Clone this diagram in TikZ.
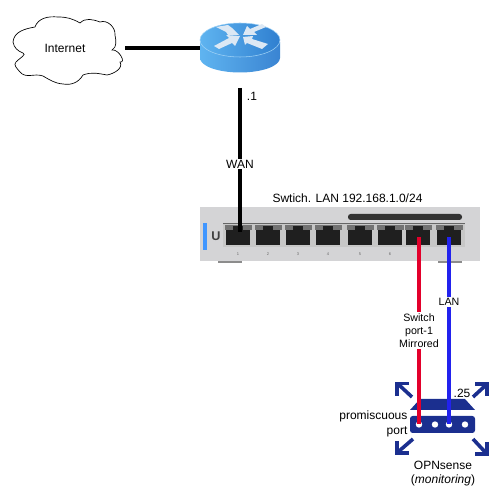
\documentclass[tikz,border=0pt]{standalone}
\usepackage{fontspec}
\setmainfont{Liberation Sans}
\usetikzlibrary{calc}
\definecolor{dkblue}{HTML}{1B2F8F}
\definecolor{plate}{HTML}{D4D4D6}
\definecolor{rtop}{HTML}{4A9CE6}
\definecolor{rtopd}{HTML}{2F7FD0}
\definecolor{rl}{HTML}{5FB4F0}
\definecolor{rd}{HTML}{3A84D2}
\definecolor{rarrow}{HTML}{DCE8F4}
\definecolor{wred}{HTML}{E3002B}
\definecolor{wblue}{HTML}{2222EE}
\tikzset{
 lbl/.style={font=\fontsize{9}{11.2}\selectfont,inner sep=1pt,align=center},
 lblsm/.style={font=\fontsize{8}{9.75}\selectfont,inner sep=1pt,align=center,fill=white},
 lblbg/.style={lbl,fill=white},
 wire/.style={line width=3.1pt},
 arr/.style={dkblue,line width=2.7pt,miter limit=10},
 pnum/.style={font=\fontsize{3}{3}\selectfont,text=black!60,inner sep=0pt},
 cloudline/.style={draw=black,line width=.5pt,fill=white}
}
\begin{document}
\begin{tikzpicture}[x=0.75pt,y=-0.75pt]
\useasboundingbox (0,0) rectangle (503,498);
% switch
\fill[plate] (200,207) rectangle (480,261);
\fill[black!45] (218,261) rectangle (242,263);
\fill[black!45] (438,261) rectangle (462,263);
\fill[black!80,rounded corners=2pt] (348,214) rectangle (462,220);
\fill[black!22] (223,223) rectangle (465,247);
\draw[black!60,line width=.5pt] (223,223) -- (465,223);
\fill[blue!55!cyan!75] (203,223) rectangle (207,250);
\node[font=\bfseries\fontsize{9.5}{9.5}\selectfont,text=black!75,inner sep=0pt] (logo) at (216,236.5) {U};
\foreach \x/\n in {238/1,268/2,298/3,328/4,360/5,390/6,418/,449/}{
  \fill[black!55] (\x-13.5,225.5) rectangle (\x+13.5,230);
  \fill[black!88] (\x-12,230) rectangle (\x+12,245);
  \fill[black!88] (\x-5,226) rectangle (\x+5,231);
  \node[pnum] at (\x,254) {\n};
}
% router
\shade[left color=rl,right color=rd] (200,42) -- (200,58) arc[start angle=180,end angle=0,x radius=40,y radius=14.5] -- (280,42) -- cycle;
\shade[left color=rl,right color=rtopd,draw=rl!60!white,line width=.4pt] (240,40) ellipse[x radius=40,y radius=17];
\fill[rarrow] (214,46) -- (229,38) -- (226,35) -- (240,36) -- (235,46) -- (232,43) -- (219,49) -- cycle;
\fill[rarrow] (216,27) -- (228,25) -- (232,28) -- (239,35) -- (228,35) -- (226,32) -- cycle;
\fill[rarrow] (243,35) -- (247,26) -- (250,29) -- (262,24) -- (266,27) -- (254,32) -- (257,35) -- cycle;
\fill[rarrow] (243,37) -- (253,36) -- (252,39) -- (268,44) -- (262,49) -- (247,43) -- (245,45) -- cycle;
\node[inner sep=0pt,minimum width=60pt,minimum height=37pt] (router) at (240,47.5) {};
% cloud
\node[inner sep=0pt,minimum width=82pt,minimum height=51pt] (cloud) at (67,50) {};
\draw[cloudline] (13,42) to[out=85,in=190] (35,27) to[out=70,in=175] (58,17) to[out=0,in=150] (80,23)
  to[out=45,in=160] (100,22) to[out=20,in=85] (115,35) to[out=-80,in=30] (112,50) to[out=10,in=-10,looseness=1.2] (120,62)
  to[out=-60,in=10] (107,75) to[out=170,in=20] (83,75)
  to[out=-120,in=-10] (63,84) to[out=175,in=-30] (43,76) to[out=160,in=-50] (20,72)
  to[out=130,in=-140] (16,62) to[out=50,in=-20] (23,53) to[out=160,in=-80] (13,42) -- cycle;
\node[lbl] (inet) at (65,48) {Internet};
% wires
\coordinate (cloudR) at (125,48);
\draw[wire] (cloudR) -- (router.west |- cloudR);
\coordinate (rb) at (240,88);
\coordinate (p1) at (240,232);
\draw[wire] (rb) -- (p1);
\node[lblbg] (wan) at (240,164) {WAN};
\node[lbl] (dot1) at (252,96.5) {.1};
\node[lbl] (sw) at (347.5,198) {Swtich. LAN 192.168.1.0/24};
% device
\fill[dkblue] (420,399) -- (465,399) -- (475,410) -- (410,410) -- cycle;
\fill[dkblue,rounded corners=2pt] (410,416) rectangle (475,433);
\foreach \x in {419,435,449,465}\fill[white] (\x,424.5) circle[radius=3.2];
\coordinate (p7) at (419,237);
\coordinate (p8) at (449,237);
\coordinate (d1) at (419,424);
\coordinate (d2) at (449,424);
\draw[wire,wred] (p7) -- (d1);
\draw[wire,wblue] (p8) -- (d2);
% arrows
\draw[arr] (412,397) -- (398,384);
\draw[arr] (397,396) -- (397,383.5) -- (409,383.5);
\draw[arr] (473,397) -- (486,385);
\draw[arr] (475,384) -- (487,384) -- (487,396);
\draw[arr] (413,439) -- (398,452);
\draw[arr] (397,441) -- (397,453) -- (409,453);
\draw[arr] (473,439) -- (486,453);
\draw[arr] (487,442) -- (487,454) -- (475,454);
% labels
\node[lblsm] (mir) at (419,330.5) {Switch\\port-1\\Mirrored};
\node[lblsm] (lan) at (449,302) {LAN};
\node[lbl] (dot25) at (462,393) {.25};
\node[lbl,align=right,anchor=east] (prom) at (409,424) {promiscuous\\port};
\node[lbl,font=\fontsize{9}{10.5}\selectfont] (ops) at (443,474) {OPNsense\\(\textit{monitoring})};
\end{tikzpicture}
\end{document}
